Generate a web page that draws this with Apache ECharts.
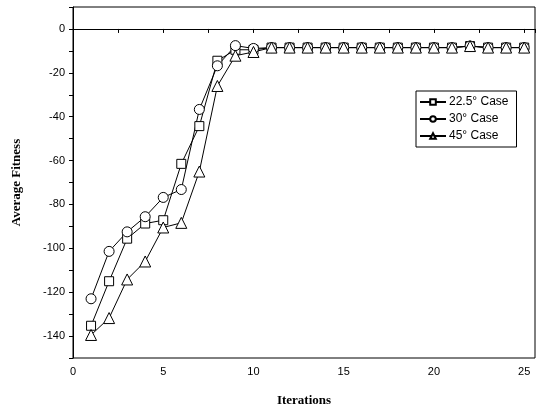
<!DOCTYPE html>
<html>
<head>
<meta charset="utf-8">
<script src="https://cdn.jsdelivr.net/npm/echarts@6/dist/echarts.min.js"></script>
<style>
  html, body { margin: 0; padding: 0; background: #fff; }
  #chart { width: 543px; height: 413px; }
</style>
</head>
<body>
<div id="chart"></div>
<script>
// 迭代次数
var iterations = [1, 2, 3, 4, 5, 6, 7, 8, 9, 10, 11, 12, 13, 14, 15, 16, 17, 18, 19, 20, 21, 22, 23, 24, 25];
var case225 = [-135.3, -115, -95.6, -88.7, -87.2, -61.5, -44.3, -14.5, -9.5, -9.5, -8.5, -8.5, -8.5, -8.5, -8.5, -8.5, -8.5, -8.5, -8.5, -8.5, -8.5, -7.8, -8.5, -8.5, -8.5];
var case30 = [-123, -101.4, -92.5, -85.6, -76.8, -73.2, -36.7, -16.8, -7.6, -8.9, -8.5, -8.5, -8.5, -8.5, -8.5, -8.5, -8.5, -8.5, -8.5, -8.5, -8.5, -7.8, -8.5, -8.5, -8.5];
var case45 = [-139.5, -131.8, -114.2, -106, -90.5, -88.4, -65, -26, -12.2, -10.5, -8.5, -8.5, -8.5, -8.5, -8.5, -8.5, -8.5, -8.5, -8.5, -8.5, -8.5, -7.8, -8.5, -8.5, -8.5];
var seriesNames = ['22.5° Case', '30° Case', '45° Case'];

function pairs(ys) {
    return ys.map(function (y, i) { return [iterations[i], y]; });
}

(function () {
    var chart = echarts.init(document.getElementById('chart'));
    var lineStyle = { color: '#000', width: 1 };
    var itemStyle = { color: '#fff', borderColor: '#000', borderWidth: 1 };
    var option = {
        animation: false,
        backgroundColor: '#fff',
        grid: {
            left: 73,
            right: 8,
            top: 7,
            bottom: 55,
            show: true,
            borderColor: '#000',
            borderWidth: 1
        },
        legend: {
            orient: 'vertical',
            left: 416,
            top: 91,
            padding: [5, 8, 5, 3],
            itemGap: 5,
            itemWidth: 26,
            itemHeight: 7,
            borderColor: '#000',
            borderWidth: 1,
            backgroundColor: '#fff',
            textStyle: { fontFamily: 'Liberation Sans', fontSize: 12, color: '#000', padding: [0, 0, 0, -2] },
            data: seriesNames
        },
        xAxis: {
            type: 'value',
            min: 0,
            max: 25.6,
            interval: 5,
            name: 'Iterations',
            nameLocation: 'middle',
            nameGap: 36,
            nameTextStyle: { fontFamily: 'Liberation Serif', fontWeight: 'bold', fontSize: 13, color: '#000' },
            axisLine: { lineStyle: { color: '#000' } },
            axisTick: { show: true, length: 4, lineStyle: { color: '#000' } },
            minorTick: { show: true, splitNumber: 2, length: 4, lineStyle: { color: '#000' } },
            axisLabel: { fontFamily: 'Liberation Sans', fontSize: 11, color: '#000', showMaxLabel: false, margin: 8 },
            splitLine: { show: false }
        },
        yAxis: {
            type: 'value',
            min: -150,
            max: 10,
            interval: 10,
            name: 'Average Fitness',
            nameLocation: 'middle',
            nameGap: 50,
            nameTextStyle: { fontFamily: 'Liberation Serif', fontWeight: 'bold', fontSize: 13, color: '#000' },
            axisLine: { lineStyle: { color: '#000' } },
            axisTick: { show: true, length: 4, lineStyle: { color: '#000' } },
            axisLabel: {
                fontFamily: 'Liberation Sans',
                fontSize: 11,
                color: '#000',
                margin: 8,
                formatter: function (v) {
                    return v % 20 === 0 && v <= 0 && v >= -140 ? String(v) : '';
                }
            },
            splitLine: { show: false }
        },
        series: [
            {
                name: seriesNames[0],
                type: 'line',
                data: pairs(case225),
                symbol: 'rect',
                symbolSize: 9,
                showAllSymbol: true,
                lineStyle: lineStyle,
                itemStyle: itemStyle
            },
            {
                name: seriesNames[1],
                type: 'line',
                data: pairs(case30),
                symbol: 'circle',
                symbolSize: 10,
                showAllSymbol: true,
                lineStyle: lineStyle,
                itemStyle: itemStyle
            },
            {
                name: seriesNames[2],
                type: 'line',
                data: pairs(case45),
                symbol: 'triangle',
                symbolSize: 11,
                showAllSymbol: true,
                lineStyle: lineStyle,
                itemStyle: itemStyle
            }
        ]
    };
    chart.setOption(option);
})();
</script>
</body>
</html>
